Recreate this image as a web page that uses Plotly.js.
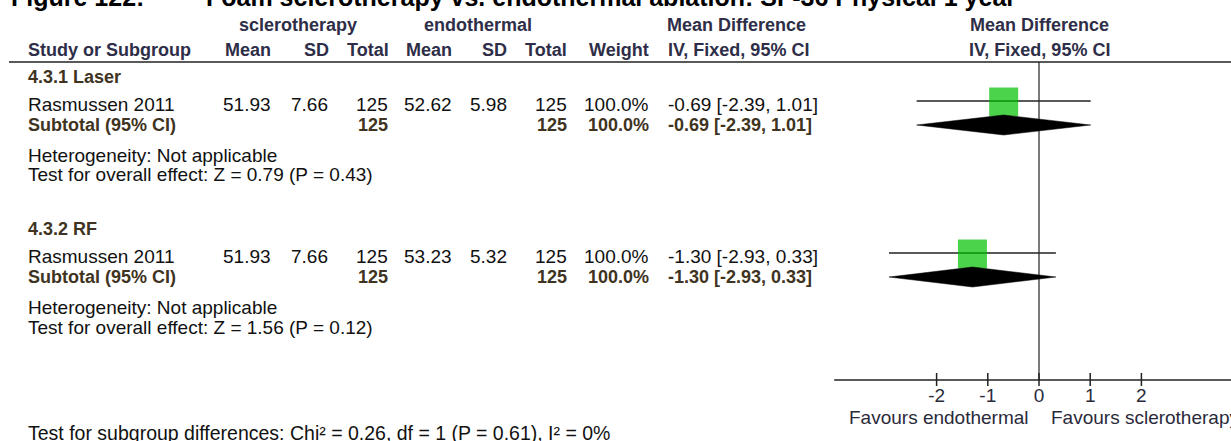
<!DOCTYPE html>
<html><head><meta charset="utf-8">
<script src="https://cdn.plot.ly/plotly-3.0.1.min.js"></script>
<style>html,body{margin:0;padding:0;background:#fff;overflow:hidden}#chart{width:1231px;height:441px}</style>
</head><body><div id="chart"></div>
<script>
// ---------------- data ----------------
const titleLabel = 'Figure 122:';
const titleText = 'Foam sclerotherapy vs. endothermal ablation: SF-36 Physical 1 year';
const subgroups = ['4.3.1 Laser', '4.3.2 RF'];
const studies = ['Rasmussen 2011', 'Rasmussen 2011'];
const sclMean = [51.93, 51.93];
const sclSD = [7.66, 7.66];
const sclTotal = [125, 125];
const endoMean = [52.62, 53.23];
const endoSD = [5.98, 5.32];
const endoTotal = [125, 125];
const weightPct = [100.0, 100.0];
const meanDiff = [-0.69, -1.30];
const ciLow = [-2.39, -2.93];
const ciHigh = [1.01, 0.33];
const zStat = [0.79, 1.56];
const pVal = [0.43, 0.12];
const heterogeneity = ['Not applicable', 'Not applicable'];
const subgroupDiff = {chi2: 0.26, df: 1, p: 0.61, i2: 0};
const tickVals = [-2, -1, 0, 1, 2];
const tickText = ['-2', '-1', '0', '1', '2'];
const axisExtent = [-4, 4];
const favoursLeft = 'Favours endothermal';
const favoursRight = 'Favours sclerotherapy';

// ---------------- layout constants ----------------
const W = 1231, H = 441;
const FONT = '"Liberation Sans", Arial, sans-serif';
const ZERO_PX = 1039, UNIT_PX = 51.2;
const xRange = [-ZERO_PX / UNIT_PX, (W - ZERO_PX) / UNIT_PX];
const groupY = [77, 229];
const HEAD_C = '#2e2e48', GROUP_C = '#3f3322', TXT_C = '#111111';
const AXIS_Y = 380, HEADER_LINE_Y = 62;

const ann = [];
function T(x, y, text, o) {
  o = o || {};
  ann.push({xref: 'paper', yref: 'paper', x: x / W, y: 1 - y / H, text: text, showarrow: false,
    xanchor: o.a || 'left', yanchor: 'middle', borderpad: 0,
    font: {size: o.s || 19, color: o.c || TXT_C, family: FONT}});
}
const f2 = v => v.toFixed(2);
const b = s => '<b>' + s + '</b>';

// title
T(10, -3, b(titleLabel), {s: 25, c: '#000'});
T(205, -3, b(titleText), {s: 25, c: '#000'});
// headers
T(298, 25, b('sclerotherapy'), {a: 'center', s: 18, c: HEAD_C});
T(478, 25, b('endothermal'), {a: 'center', s: 18, c: HEAD_C});
T(736, 25, b('Mean Difference'), {a: 'center', s: 18, c: HEAD_C});
T(1039, 25, b('Mean Difference'), {a: 'center', s: 18, c: HEAD_C});
T(27, 50, b('Study or Subgroup'), {s: 18, c: HEAD_C});
T(272, 50, b('Mean'), {a: 'right', s: 18, c: HEAD_C});
T(330, 50, b('SD'), {a: 'right', s: 18, c: HEAD_C});
T(390, 50, b('Total'), {a: 'right', s: 18, c: HEAD_C});
T(453, 50, b('Mean'), {a: 'right', s: 18, c: HEAD_C});
T(508, 50, b('SD'), {a: 'right', s: 18, c: HEAD_C});
T(568, 50, b('Total'), {a: 'right', s: 18, c: HEAD_C});
T(650, 50, b('Weight'), {a: 'right', s: 18, c: HEAD_C});
T(667, 50, b('IV, Fixed, 95% CI'), {s: 18, c: HEAD_C});
T(1039, 50, b('IV, Fixed, 95% CI'), {a: 'center', s: 18, c: HEAD_C});

const ciText = i => f2(meanDiff[i]) + ' [' + f2(ciLow[i]) + ', ' + f2(ciHigh[i]) + ']';
const studyY = [], subY = [];
subgroups.forEach((g, i) => {
  const y0 = groupY[i];
  const ys = y0 + 27, yt = y0 + 48, yh = y0 + 78, yz = y0 + 98;
  studyY.push(ys); subY.push(yt);
  T(27, y0, b(g), {s: 18, c: GROUP_C});
  T(27, ys, studies[i]);
  T(272, ys, f2(sclMean[i]), {a: 'right'});
  T(329, ys, f2(sclSD[i]), {a: 'right'});
  T(389, ys, String(sclTotal[i]), {a: 'right'});
  T(453, ys, f2(endoMean[i]), {a: 'right'});
  T(508, ys, f2(endoSD[i]), {a: 'right'});
  T(568, ys, String(endoTotal[i]), {a: 'right'});
  T(650, ys, weightPct[i].toFixed(1) + '%', {a: 'right'});
  T(667, ys, ciText(i));
  T(27, yt, b('Subtotal (95% CI)'), {s: 18, c: GROUP_C});
  T(389, yt, b(String(sclTotal[i])), {a: 'right', s: 18, c: GROUP_C});
  T(568, yt, b(String(endoTotal[i])), {a: 'right', s: 18, c: GROUP_C});
  T(650, yt, b(weightPct[i].toFixed(1) + '%'), {a: 'right', s: 18, c: GROUP_C});
  T(667, yt, b(ciText(i)), {s: 18, c: GROUP_C});
  T(27, yh, 'Heterogeneity: ' + heterogeneity[i]);
  T(27, yz, 'Test for overall effect: Z = ' + f2(zStat[i]) + ' (P = ' + f2(pVal[i]) + ')');
});
T(27, 433, 'Test for subgroup differences: Chi\u00b2 = ' + f2(subgroupDiff.chi2) + ', df = ' + subgroupDiff.df +
  ' (P = ' + f2(subgroupDiff.p) + '), I\u00b2 = ' + subgroupDiff.i2 + '%', {s: 19.5});
T(1030, 417, favoursLeft, {a: 'right', c: '#2a2a3a'});
T(1050, 417, favoursRight, {c: '#2a2a3a'});

// ---------------- traces ----------------
const traces = [];
// zero line
traces.push({x: [0, 0], y: [HEADER_LINE_Y, AXIS_Y], mode: 'lines', line: {color: '#333', width: 1.3}, hoverinfo: 'skip'});
// axis line
traces.push({x: axisExtent, y: [AXIS_Y, AXIS_Y], mode: 'lines', line: {color: '#222', width: 1.5}, hoverinfo: 'skip'});
// ticks
const tx = [], ty = [];
tickVals.forEach(t => { tx.push(t, t, null); ty.push(AXIS_Y - 7, AXIS_Y + 6, null); });
traces.push({x: tx, y: ty, mode: 'lines', line: {color: '#222', width: 1.5}, hoverinfo: 'skip'});
traces.push({x: tickVals, y: tickVals.map(() => 397), mode: 'text', text: tickText,
  textposition: 'middle center', textfont: {size: 19, color: '#2a2a3a', family: FONT}, hoverinfo: 'skip', cliponaxis: false});
// CI lines
meanDiff.forEach((m, i) => {
  const cy = studyY[i] - 3;
  traces.push({x: [ciLow[i], ciHigh[i]], y: [cy, cy], mode: 'lines', line: {color: '#222', width: 1.4}, hoverinfo: 'skip'});
});
// squares
traces.push({x: meanDiff, y: studyY.map(y => y - 2), mode: 'markers', hoverinfo: 'skip',
  marker: {symbol: 'square', size: weightPct.map(w => 29 * Math.sqrt(w / 100)), color: '#00c000', line: {width: 0}}});
// diamonds
meanDiff.forEach((m, i) => {
  const dy = subY[i];
  traces.push({x: [ciLow[i], m, ciHigh[i], m, ciLow[i]], y: [dy, dy - 10, dy, dy + 10, dy], mode: 'lines',
    fill: 'toself', fillcolor: '#000', line: {color: '#000', width: 0.5}, hoverinfo: 'skip'});
});

const layout = {
  width: W, height: H, margin: {l: 0, r: 0, t: 0, b: 0, pad: 0},
  paper_bgcolor: '#fff', plot_bgcolor: '#fff', showlegend: false,
  font: {family: FONT, size: 19, color: TXT_C},
  xaxis: {range: xRange, visible: false, fixedrange: true},
  yaxis: {range: [H, 0], visible: false, fixedrange: true},
  shapes: [{type: 'line', xref: 'paper', yref: 'paper', x0: 9 / W, x1: 1, y0: 1 - HEADER_LINE_Y / H, y1: 1 - HEADER_LINE_Y / H,
    line: {color: '#222', width: 1.7}}],
  annotations: ann
};
Plotly.newPlot('chart', traces, layout, {displayModeBar: false, staticPlot: true});
</script></body></html>
